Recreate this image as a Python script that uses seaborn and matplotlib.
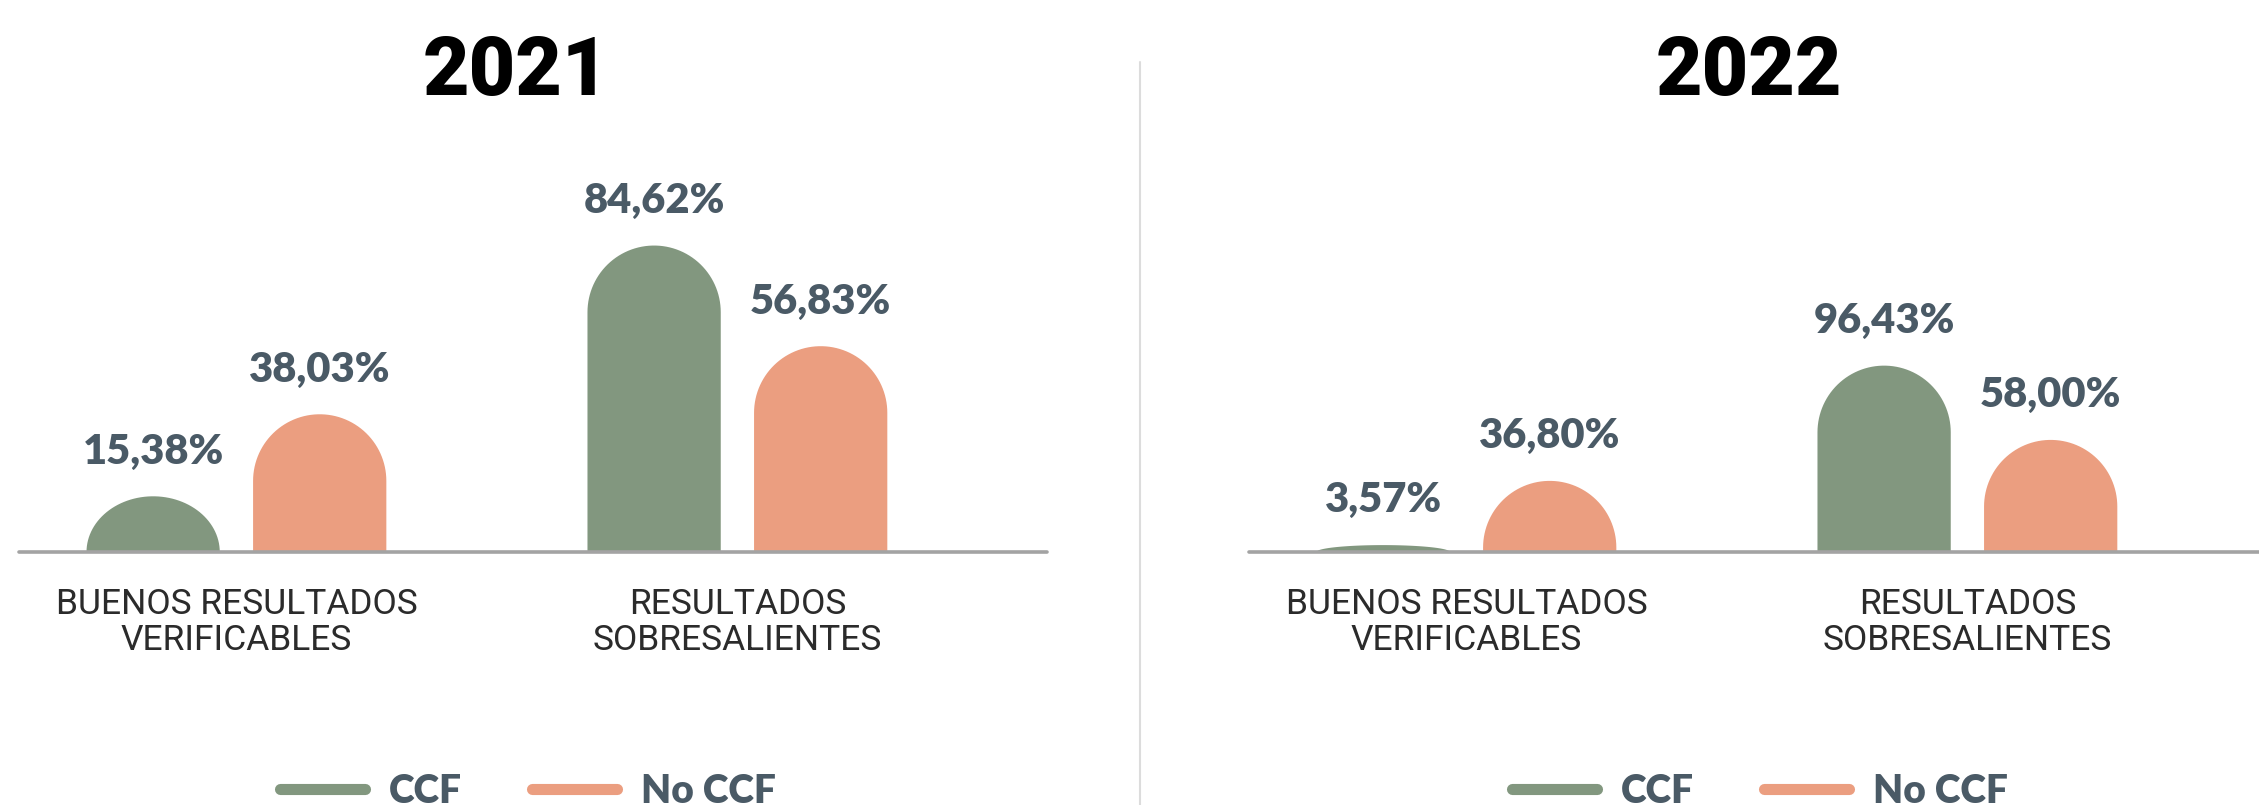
import numpy as np
import pandas as pd
import seaborn as sns
import matplotlib.pyplot as plt
from matplotlib.path import Path
from matplotlib.patches import PathPatch
from matplotlib.lines import Line2D

# datos
anios = ['2021', '2022']
categorias = ['BUENOS RESULTADOS\nVERIFICABLES', 'RESULTADOS\nSOBRESALIENTES']
grupos = ['CCF', 'No CCF']
ccf_2021 = [15.38, 84.62]
no_ccf_2021 = [38.03, 56.83]
ccf_2022 = [3.57, 96.43]
no_ccf_2022 = [36.80, 58.00]

valores = {
    '2021': (ccf_2021, no_ccf_2021),
    '2022': (ccf_2022, no_ccf_2022),
}

verde = '#82977f'
naranja = '#eb9e80'
pizarra = '#4a5a66'
gris = '#a3a3a3'

sns.set_theme(style='white')
plt.rcParams['font.family'] = ['Lato', 'DejaVu Sans']

W, H = 2259, 805
fig = plt.figure(figsize=(W / 100, H / 100), dpi=100)

# posiciones en pixeles
izq = [19, 1249]
ancho_ax = 1028
base = 552
alto_ax = 402
ytop = {'2021': 111.0, '2022': 208.0}
titulo_x = [516, 1749]
leyenda_x = [528, 1760]


def barra_redonda(x0, w, h, ry):
    xc = x0 + w / 2
    rx = w / 2
    t = np.linspace(np.pi, 0, 60)
    if h >= ry:
        yc = h - ry
        arco = np.column_stack([xc + rx * np.cos(t), yc + ry * np.sin(t)])
        pts = np.vstack([[x0, 0], [x0, yc], arco, [x0 + w, yc], [x0 + w, 0], [x0, 0]])
    else:
        arco = np.column_stack([xc + rx * np.cos(t), h * np.sin(t)])
        pts = np.vstack([[x0, 0], arco, [x0 + w, 0], [x0, 0]])
    return Path(pts, closed=True)


for i, anio in enumerate(anios):
    ccf, no_ccf = valores[anio]
    df = pd.DataFrame({
        'categoria': categorias * 2,
        'grupo': [grupos[0]] * 2 + [grupos[1]] * 2,
        'valor': list(ccf) + list(no_ccf),
    })

    ax = fig.add_axes([izq[i] / W, (H - base) / H, ancho_ax / W, alto_ax / H])
    sns.barplot(data=df, x='categoria', y='valor', hue='grupo', palette=[verde, naranja],
                width=0.665, gap=0.2, saturation=1, legend=False, ax=ax)
    ax.set_xlim(-0.434, 1.618)
    ax.set_ylim(0, ytop[anio])

    # escala pixel/dato para redondear con circulos reales
    p0 = ax.transData.transform((0, 0))
    p1 = ax.transData.transform((1, 1))
    px_x = p1[0] - p0[0]
    px_y = p1[1] - p0[1]

    for p in list(ax.patches):
        x0, w, h = p.get_x(), p.get_width(), p.get_height()
        color = p.get_facecolor()
        p.remove()
        if np.isnan(h):
            continue
        ry = (w / 2) * px_x / px_y
        ax.add_patch(PathPatch(barra_redonda(x0, w, h, ry), facecolor=color,
                               edgecolor='none', zorder=2))
        etiqueta = f'{h:.2f}%'.replace('.', ',')
        ax.annotate(etiqueta, (x0 + w / 2, h), xytext=(0, 23.5), textcoords='offset points',
                    ha='center', va='baseline', fontsize=30, fontweight='heavy', color=pizarra)

    ax.axhline(0, color=gris, lw=2.6, solid_capstyle='round', zorder=3, clip_on=False)
    sns.despine(ax=ax, left=True, bottom=True)
    ax.set_yticks([])
    ax.set_xlabel('')
    ax.set_ylabel('')
    ax.tick_params(axis='x', length=0, pad=26, labelsize=25.5, labelcolor='#2b2b2b')
    for lab in ax.get_xticklabels():
        lab.set_family(['Roboto', 'DejaVu Sans'])
        lab.set_linespacing(1.1)

    fig.text(titulo_x[i] / W, (H - 95) / H, anio, ha='center', va='baseline',
             fontsize=58, fontweight='black', color='black', family=['Roboto', 'DejaVu Sans'])

    manijas = [Line2D([], [], color=verde, lw=8, solid_capstyle='round'),
               Line2D([], [], color=naranja, lw=8, solid_capstyle='round')]
    leg = fig.legend(manijas, grupos, loc='center', bbox_to_anchor=(leyenda_x[i] / W, 14 / H),
                     ncol=2, frameon=False, fontsize=28, handlelength=2.18,
                     handletextpad=0.62, columnspacing=1.81, borderpad=0, borderaxespad=0)
    for t in leg.get_texts():
        t.set_color(pizarra)
        t.set_fontweight('heavy')

# linea divisoria
fig.add_artist(Line2D([1140 / W, 1140 / W], [0, (H - 62) / H], transform=fig.transFigure,
                      color='#dcdcdc', lw=1.5))

fig.savefig('out.png', dpi=100, facecolor='white')
